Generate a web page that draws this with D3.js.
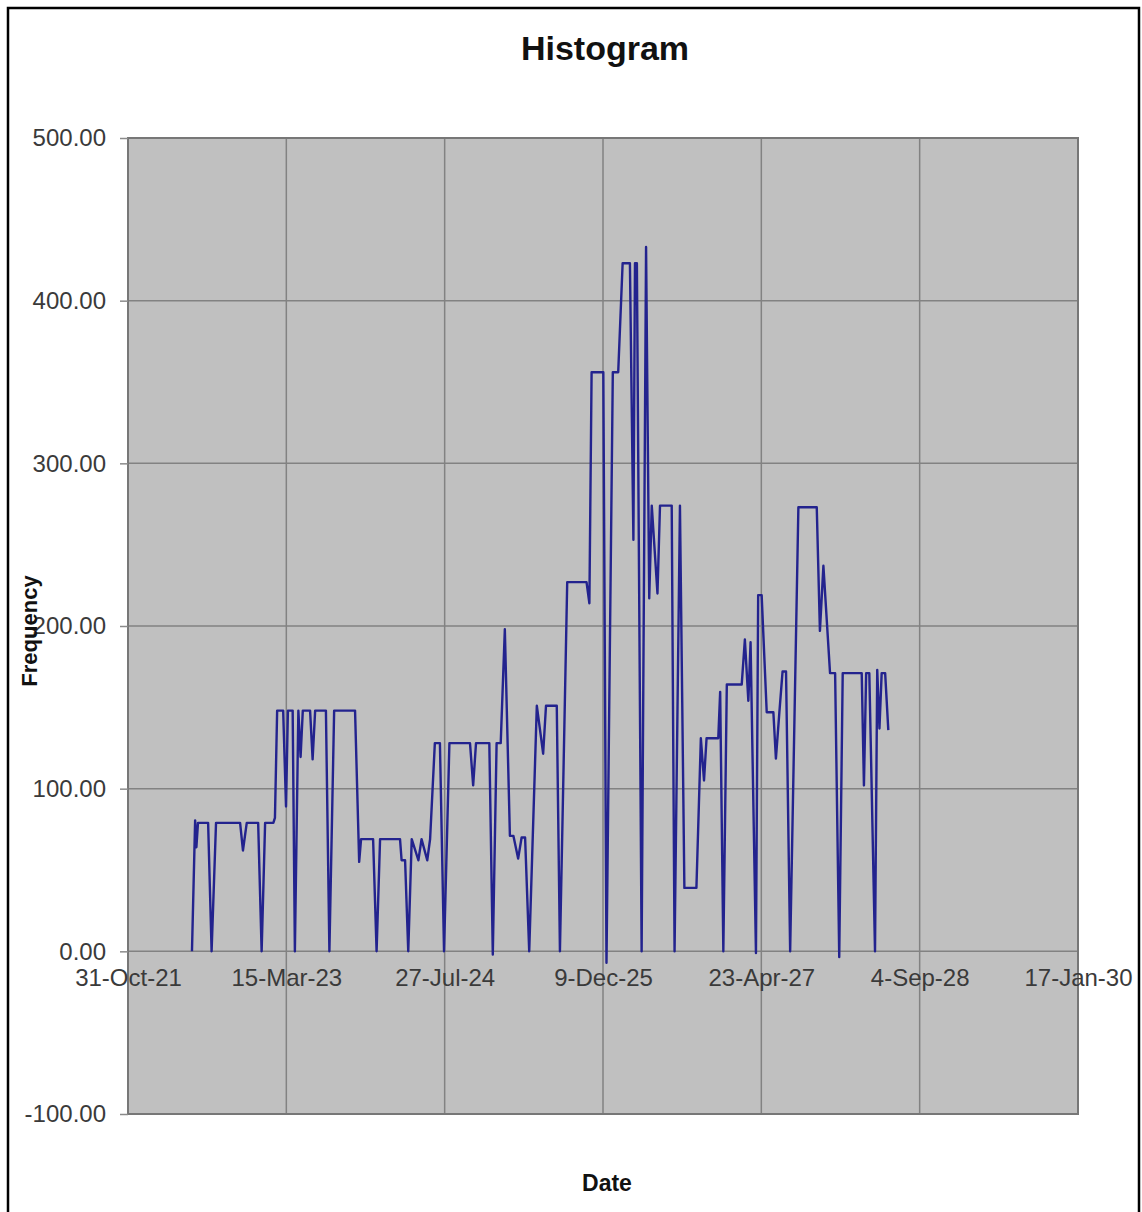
<!DOCTYPE html>
<html>
<head>
<meta charset="utf-8">
<script src="https://cdn.jsdelivr.net/npm/d3@7"></script>
<style>
  html, body { margin: 0; padding: 0; background: #fff; }
  svg { display: block; font-family: "Liberation Sans", Arial, sans-serif; }
</style>
</head>
<body>
<svg id="chart" width="1142" height="1212"></svg>
<script>
// ---- data (dates are Excel serial day numbers) ----
const dateSerials = [
  44702, 44712, 44716, 44721, 44753, 44764, 44778, 44854, 44863, 44875,
  44911, 44922, 44933, 44959, 44964, 44971, 44990, 44999, 45005, 45020,
  45027, 45038, 45045, 45052, 45075, 45083, 45091, 45125, 45136, 45151,
  45217, 45230, 45236, 45274, 45285, 45296, 45359, 45364, 45375, 45385,
  45396, 45417, 45427, 45445, 45454, 45469, 45485, 45498, 45515, 45580,
  45590, 45599, 45641, 45652, 45664, 45677, 45690, 45706, 45717, 45732,
  45743, 45754, 45767, 45791, 45811, 45820, 45854, 45864, 45887, 45948,
  45957, 45964, 46001, 46011, 46031, 46048, 46062, 46085, 46096, 46101,
  46107, 46122, 46136, 46146, 46154, 46172, 46180, 46217, 46226, 46243,
  46257, 46295, 46309, 46319, 46327, 46364, 46370, 46380, 46391, 46438,
  46448, 46459, 46466, 46483, 46490, 46501, 46517, 46538, 46546, 46557,
  46567, 46578, 46591, 46617, 46675, 46685, 46696, 46717, 46733, 46746,
  46757, 46817, 46824, 46831, 46841, 46859, 46866, 46873, 46880, 46891,
  46901
];
const frequencies = [
  0, 80.5, 64, 79, 79, 0, 79, 79, 62, 79,
  79, 0, 79, 79, 82, 148, 148, 89, 148, 148,
  0, 148, 119.5, 148, 148, 118, 148, 148, 0, 148,
  148, 55, 69, 69, 0, 69, 69, 56, 56, 0,
  69, 56, 69, 56, 69, 128, 128, 0, 128, 128,
  102, 128, 128, -2, 128, 128, 198, 71, 71, 57,
  70, 70, 0, 151, 121.5, 151, 151, 0, 227, 227,
  214, 356, 356, -7, 356, 356, 423, 423, 253, 423,
  423, 0, 433, 217, 274, 220, 274, 274, 0, 274,
  39, 39, 131, 105, 131, 131, 159.5, 0, 164, 164,
  191.7, 154, 190, -1, 219, 219, 147, 147, 118.5, 147,
  172, 172, 0, 273, 273, 197, 237, 171, 171, -3.5,
  171, 171, 102, 171, 171, 0, 173, 137, 171, 171,
  136
];
const xTickSerials = [44500, 45000, 45500, 46000, 46500, 47000, 47500];
const yTickValues = [-100, 0, 100, 200, 300, 400, 500];
const chartTitle = "Histogram";
const xTitle = "Date";
const yTitle = "Frequency";

// ---- helpers ----
const excelEpoch = Date.UTC(1899, 11, 30);
const toDate = s => new Date(excelEpoch + s * 86400000);
const points = dateSerials.map((s, i) => ({ date: toDate(s), value: frequencies[i] }));
const fmt2 = d => d.toFixed(2);

const svg = d3.select("#chart");
const W = 1142, H = 1212;
const plot = { left: 128, right: 1078, top: 138, bottom: 1114 };

svg.append("rect").attr("width", W).attr("height", H).attr("fill", "#ffffff");

// outer frame
svg.append("path")
  .attr("d", `M8,${H + 5} L8,8 L1139,8 L1139,${H + 5}`)
  .attr("fill", "none").attr("stroke", "#000").attr("stroke-width", 2.5);

const x = d3.scaleUtc()
  .domain([toDate(xTickSerials[0]), toDate(xTickSerials[xTickSerials.length - 1])])
  .range([plot.left, plot.right]);
const y = d3.scaleLinear()
  .domain([d3.min(yTickValues), d3.max(yTickValues)])
  .range([plot.bottom, plot.top]);

// plot background
svg.append("rect")
  .attr("x", plot.left).attr("y", plot.top)
  .attr("width", plot.right - plot.left).attr("height", plot.bottom - plot.top)
  .attr("fill", "#c0c0c0");

// gridlines
const grid = svg.append("g").attr("stroke", "#828282").attr("stroke-width", 1.5);
grid.selectAll("line.h").data(yTickValues).join("line")
  .attr("x1", plot.left).attr("x2", plot.right)
  .attr("y1", d => y(d)).attr("y2", d => y(d));
grid.selectAll("line.v").data(xTickSerials).join("line")
  .attr("x1", d => x(toDate(d))).attr("x2", d => x(toDate(d)))
  .attr("y1", plot.top).attr("y2", plot.bottom);

// plot border
svg.append("rect")
  .attr("x", plot.left).attr("y", plot.top)
  .attr("width", plot.right - plot.left).attr("height", plot.bottom - plot.top)
  .attr("fill", "none").attr("stroke", "#777777").attr("stroke-width", 2);

// y axis
const yAxis = svg.append("g")
  .attr("transform", `translate(${plot.left},0)`)
  .call(d3.axisLeft(y).tickValues(yTickValues).tickFormat(fmt2).tickSize(8).tickPadding(14));
yAxis.select(".domain").remove();
yAxis.selectAll(".tick line").attr("stroke", "#8a8a8a").attr("stroke-width", 1.5);
yAxis.selectAll(".tick text")
  .attr("font-size", 24).attr("fill", "#3a3a3a")
  .attr("font-family", "'Liberation Sans', Arial, sans-serif");

// x axis (labels placed under the zero line)
const xAxis = svg.append("g")
  .attr("transform", `translate(0,${y(0)})`)
  .call(d3.axisBottom(x).tickValues(xTickSerials.map(toDate))
    .tickFormat(d3.utcFormat("%-d-%b-%y")).tickSize(0).tickPadding(18));
xAxis.select(".domain").remove();
xAxis.selectAll(".tick text")
  .attr("font-size", 24).attr("fill", "#3a3a3a")
  .attr("font-family", "'Liberation Sans', Arial, sans-serif");

// data line
svg.append("path")
  .datum(points)
  .attr("fill", "none")
  .attr("stroke", "#23238e")
  .attr("stroke-width", 2.4)
  .attr("stroke-linejoin", "round")
  .attr("d", d3.line().x(d => x(d.date)).y(d => y(d.value)));

// titles
svg.append("text")
  .attr("x", 605).attr("y", 60)
  .attr("text-anchor", "middle")
  .attr("font-size", 34).attr("font-weight", "bold").attr("fill", "#111")
  .text(chartTitle);

svg.append("text")
  .attr("x", 607).attr("y", 1191)
  .attr("text-anchor", "middle")
  .attr("font-size", 23).attr("font-weight", "bold").attr("fill", "#111")
  .text(xTitle);

svg.append("text")
  .attr("transform", "translate(37,631) rotate(-90)")
  .attr("text-anchor", "middle")
  .attr("font-size", 22).attr("font-weight", "bold").attr("fill", "#111")
  .text(yTitle);
</script>
</body>
</html>
